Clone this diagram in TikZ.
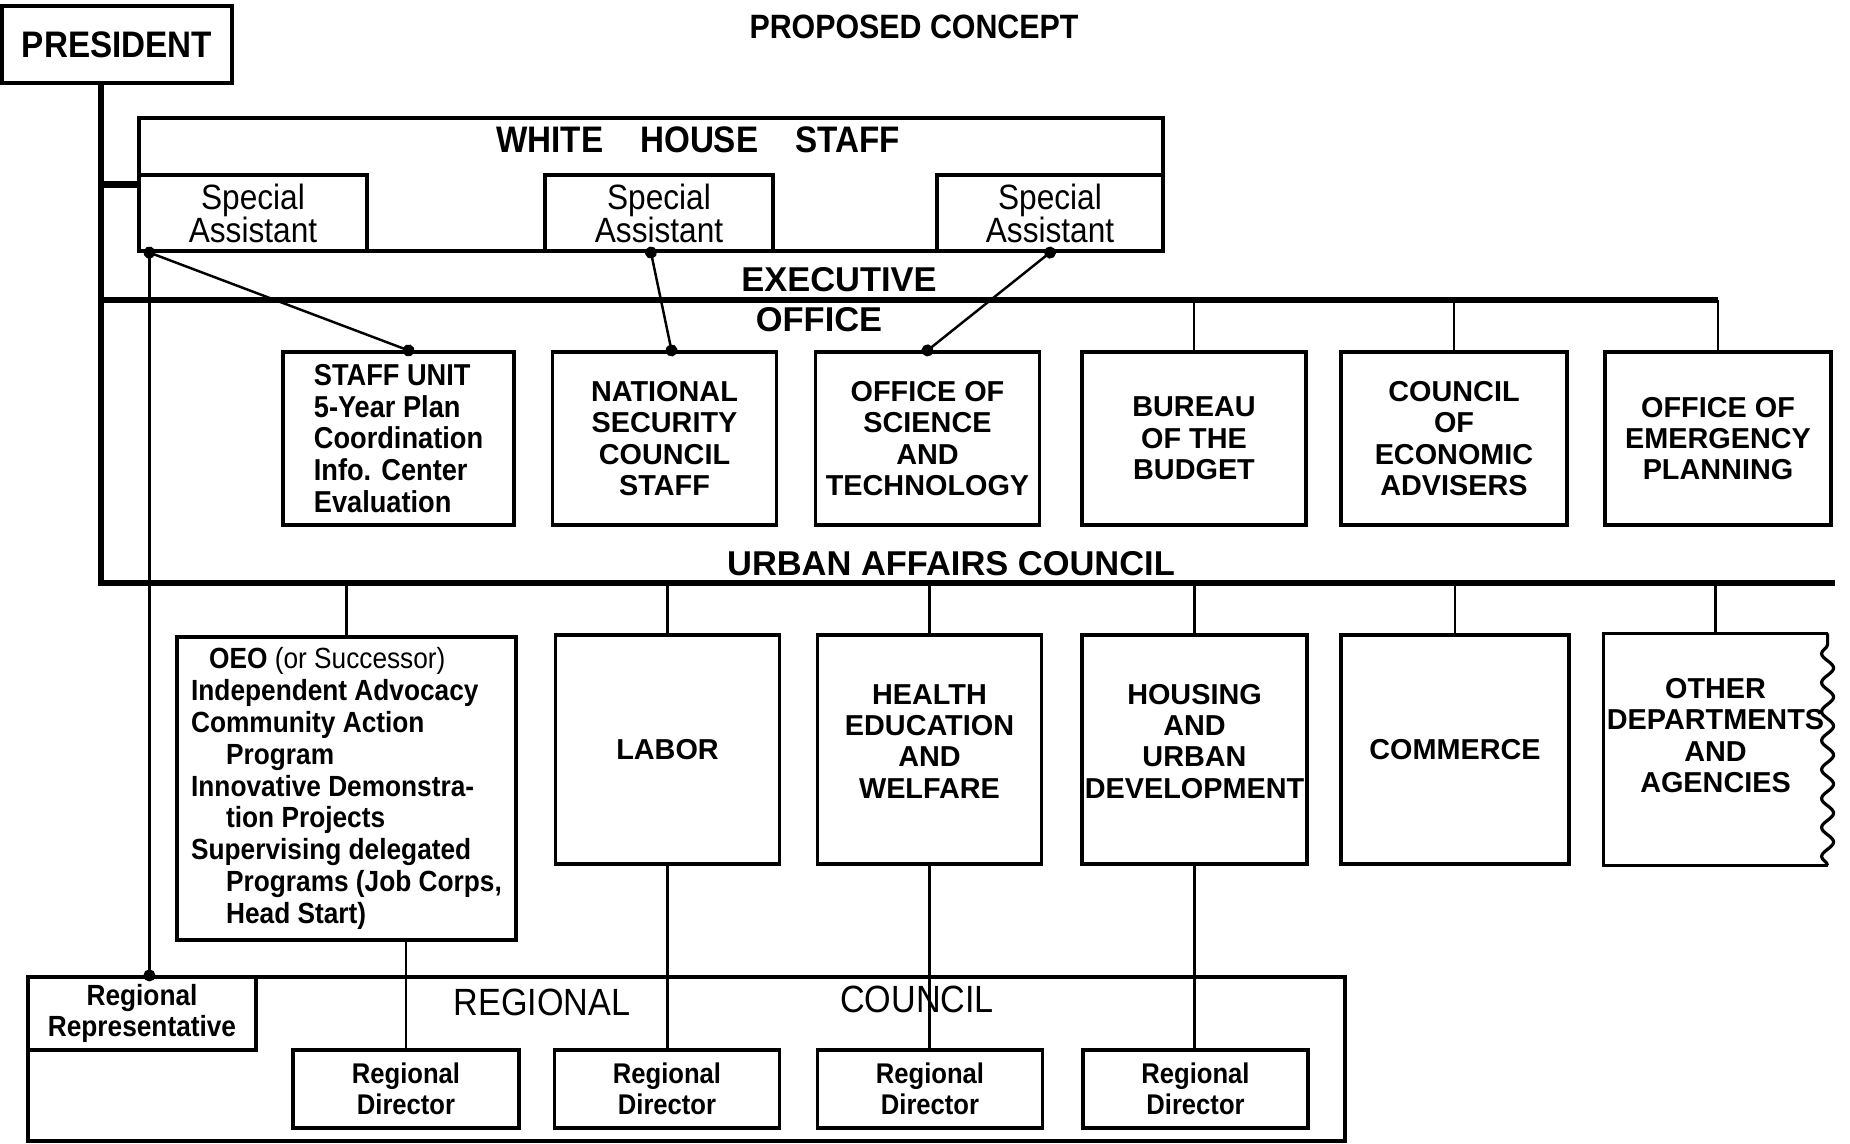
\documentclass[tikz,border=0pt]{standalone}
\usepackage{fontspec}
\setmainfont{Liberation Sans}
\newfontfamily\narrow{Liberation Sans}[FakeStretch=0.9]
\usetikzlibrary{arrows.meta,decorations.pathmorphing}

\begin{document}
\begin{tikzpicture}[
  box/.style={draw,rectangle,line width=0.9pt,inner sep=0pt,align=center,
    font=\bfseries\fontsize{8.2}{8.9}\selectfont},
  exo/.style={box,minimum width=2.24cm,minimum height=1.73cm},
  dept/.style={box,minimum width=2.24cm,minimum height=2.29cm},
  spec/.style={box,minimum width=2.28cm,minimum height=0.76cm,
    font=\narrow\fontsize{10}{9.4}\selectfont},
  rdir/.style={box,minimum width=2.25cm,minimum height=0.78cm,
    font=\narrow\bfseries\fontsize{8.1}{8.7}\selectfont},
  head/.style={inner sep=0pt,font=\bfseries\fontsize{9.8}{11}\selectfont},
  bar/.style={line width=1.8pt},
  link/.style={line width=0.7pt},
  dots/.style={link,{Circle[length=3.4pt]}-{Circle[length=3.4pt]},
    shorten <=-1.7pt,shorten >=-1.7pt}
]
\useasboundingbox (0,0) rectangle (18.5,-11.44);

\node[box,minimum width=2.3cm,minimum height=0.77cm,
  font=\narrow\bfseries\fontsize{10.5}{11}\selectfont] (pres) at (1.17,-0.445) {PRESIDENT};
\node[inner sep=0pt,font=\narrow\bfseries\fontsize{9.6}{11}\selectfont] (title) at (9.14,-0.27) {PROPOSED CONCEPT};

% white house staff
\node[box,minimum width=10.24cm,minimum height=1.33cm] (whs) at (6.51,-1.845) {};
\node[inner sep=0pt,font=\narrow\bfseries\fontsize{10.5}{11}\selectfont] (whst) at (6.98,-1.40) {WHITE\quad HOUSE\quad STAFF};
\node[spec] (sa1) at (2.53,-2.13) {Special\\Assistant};
\node[spec] (sa2) at (6.59,-2.13) {Special\\Assistant};
\node[spec,minimum width=2.26cm] (sa3) at (10.50,-2.13) {Special\\Assistant};

\node[head] (exec) at (8.39,-2.80) {EXECUTIVE};
\node[head] (office) at (8.19,-3.20) {OFFICE};

% executive office
\node[exo,minimum width=2.31cm,align=left,font=\narrow\bfseries\fontsize{8.6}{9}\selectfont] (su) at (3.985,-4.385)
  {STAFF UNIT\\5-Year Plan\\Coordination\\Info. Center\\Evaluation};
\node[exo] (nsc) at (6.645,-4.385) {NATIONAL\\SECURITY\\COUNCIL\\STAFF};
\node[exo] (ost) at (9.275,-4.385) {OFFICE OF\\SCIENCE\\AND\\TECHNOLOGY};
\node[exo] (bob) at (11.94,-4.385) {BUREAU\\OF THE\\BUDGET};
\node[exo,minimum width=2.26cm] (cea) at (14.54,-4.385) {COUNCIL\\OF\\ECONOMIC\\ADVISERS};
\node[exo,minimum width=2.26cm] (oep) at (17.18,-4.385) {OFFICE OF\\EMERGENCY\\PLANNING};

\node[head] (uact) at (9.51,-5.64) {URBAN AFFAIRS COUNCIL};

% departments
\node[box,minimum width=3.39cm,minimum height=3.03cm,align=left,
  font=\narrow\bfseries\fontsize{8.3}{9.05}\selectfont] (oeo) at (3.465,-7.885)
  {\hspace*{0.18cm}OEO {\mdseries(or Successor)}\\
   Independent Advocacy\\
   Community Action\\
   \hspace*{0.35cm}Program\\
   Innovative Demonstra-\\
   \hspace*{0.35cm}tion Projects\\
   Supervising delegated\\
   \hspace*{0.35cm}Programs (Job Corps,\\
   \hspace*{0.35cm}Head Start)};
\node[dept] (lab) at (6.675,-7.495) {LABOR};
\node[dept] (hew) at (9.295,-7.495) {HEALTH\\EDUCATION\\AND\\WELFARE\\[-4.2pt]};
\node[dept,minimum width=2.25cm] (hud) at (11.945,-7.495) {HOUSING\\AND\\URBAN\\DEVELOPMENT\\[-4.2pt]};
\node[dept,minimum width=2.28cm] (com) at (14.55,-7.495) {COMMERCE};
\node[dept,draw=none,minimum width=2.21cm] (oth) at (17.155,-7.495) {OTHER\\DEPARTMENTS\\AND\\AGENCIES\\[-0.9pt]};
\draw[line width=0.9pt] (oth.north east) -- (oth.north west) -- (oth.south west) -- (oth.south east);
\draw[line width=0.9pt,decorate,decoration={snake,segment length=0.29cm,amplitude=0.06cm}]
  (oth.south east) -- (oth.north east);

% regional council
\node[box,minimum width=13.17cm,minimum height=1.64cm] (rc) at (6.865,-10.59) {};
\node[box,minimum width=2.28cm,minimum height=0.73cm,
  font=\narrow\bfseries\fontsize{8.3}{9}\selectfont] (rrep) at (1.42,-10.135) {Regional\\Representative};
\node[inner sep=0pt,font=\narrow\fontsize{10.8}{11}\selectfont] (rct1) at (5.42,-10.02) {REGIONAL};
\node[inner sep=0pt,font=\narrow\fontsize{10.8}{11}\selectfont] (rct2) at (9.17,-9.99) {COUNCIL};
\node[rdir,minimum width=2.26cm] (rd1) at (4.06,-10.89) {Regional\\Director};
\node[rdir] (rd2) at (6.67,-10.89) {Regional\\Director};
\node[rdir] (rd3) at (9.30,-10.89) {Regional\\Director};
\node[rdir] (rd4) at (11.955,-10.89) {Regional\\Director};

% trunk lines
\coordinate (top) at ([xshift=-0.16cm]pres.south);
\coordinate (eo) at (top |- 0,-3.00);
\coordinate (ua) at (top |- 0,-5.83);
\coordinate (uaend) at (18.35,-5.83);
\draw[bar] (top) -- (ua) -- (uaend);
\draw[bar] (top |- whs.west) -- (whs.west);
\draw[bar] (eo) -- (eo -| oep.north);
\foreach \n in {bob,cea,oep}
  \draw[link] (\n.north) -- (\n.north |- eo);
\foreach \n in {oeo,lab,hew,hud,com,oth}
  \draw[link] (\n.north) -- (\n.north |- ua);

% special assistants
\coordinate (d1) at ([xshift=0.12cm]sa1.south west);
\draw[dots] (d1) -- ([xshift=0.1cm]su.north);
\draw[dots] ([xshift=-0.08cm]sa2.south) -- ([xshift=0.07cm]nsc.north);
\draw[dots] (sa3.south) -- (ost.north);
\draw[link,-{Circle[length=3.4pt]},shorten >=-1.7pt] (d1) -- (d1 |- rrep.north);

% regional directors
\draw[link] (rd1.north) -- (rd1.north |- oeo.south);
\foreach \a/\b in {lab/rd2,hew/rd3,hud/rd4}
  \draw[link] (\a.south) -- (\a.south |- \b.north);
\end{tikzpicture}
\end{document}
